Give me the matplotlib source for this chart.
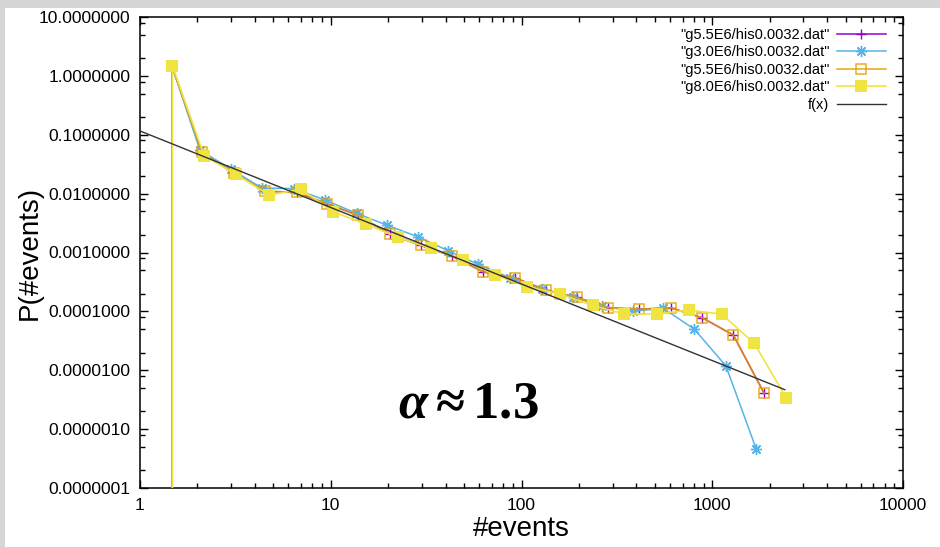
import matplotlib
matplotlib.use('Agg')
import matplotlib.pyplot as plt
from matplotlib.patches import Rectangle
from matplotlib.ticker import LogLocator, FixedLocator, FormatStrFormatter, NullFormatter

plt.rcParams['font.family'] = ['Liberation Sans', 'DejaVu Sans']
plt.rcParams['mathtext.fontset'] = 'custom'
plt.rcParams['mathtext.rm'] = 'Liberation Serif:bold'
plt.rcParams['mathtext.it'] = 'Liberation Serif:italic:bold'
plt.rcParams['mathtext.bf'] = 'Liberation Serif:bold'

# --- data (first point of each run drops to zero) ---
x_g55 = [1.47, 1.47, 2.11, 3.11, 4.52, 6.63, 9.59, 13.9, 20.5, 29.7, 43.1,
         63.1, 92.5, 134, 195, 285, 415, 606, 887, 1290, 1870]
p_g55 = [0, 1.48, 0.0501, 0.0223, 0.0110, 0.0105, 0.00671, 0.00427, 0.00203,
         0.00132, 0.000869, 0.000470, 0.000372, 0.000230, 0.000173, 0.000115,
         0.000109, 0.000115, 7.78e-5, 3.96e-5, 4.06e-6]

x_g30 = [1.47, 1.47, 2.06, 3.00, 4.36, 6.42, 9.33, 13.7, 19.7, 28.6, 41.3,
         59.4, 87.0, 128, 186, 263, 386, 554, 805, 1180, 1700]
p_g30 = [0, 1.48, 0.0548, 0.0261, 0.0124, 0.0122, 0.00777, 0.00461, 0.00292,
         0.00185, 0.00107, 0.000628, 0.000372, 0.000237, 0.000177, 0.000123,
         0.000101, 0.000112, 5.0e-5, 1.18e-5, 4.6e-7]

x_g80 = [1.48, 1.48, 2.17, 3.18, 4.75, 6.98, 10.3, 15.3, 22.6, 33.4, 49.5,
         72.6, 107, 159, 236, 346, 512, 755, 1120, 1660, 2440]
p_g80 = [0, 1.48, 0.0438, 0.0214, 0.00944, 0.0119, 0.00491, 0.00303, 0.00180,
         0.00119, 0.000743, 0.000418, 0.000262, 0.000197, 0.000126, 9.0e-5,
         9.1e-5, 1.05e-4, 9.0e-5, 2.87e-5, 3.41e-6]

# fitted power law f(x) = A * x^-alpha
fit_amp = 0.116
fit_alpha = 1.3
fit_x = [1, 2400]
fit_y = [fit_amp * x ** -fit_alpha for x in fit_x]

labels = ['"g5.5E6/his0.0032.dat"', '"g3.0E6/his0.0032.dat"',
          '"g5.5E6/his0.0032.dat"', '"g8.0E6/his0.0032.dat"', 'f(x)']
y_ticks = [1e-7, 1e-6, 1e-5, 1e-4, 1e-3, 1e-2, 1e-1, 1, 10]
x_ticks = [1, 10, 100, 1000, 10000]

fig = plt.figure(figsize=(9.4, 5.47), dpi=100)
fig.patch.set_facecolor('#d6d6d6')
fig.add_artist(Rectangle((5 / 940, 0), 1, 1 - 8 / 547, transform=fig.transFigure,
                         facecolor='white', edgecolor='none', zorder=0))

ax = fig.add_axes([140 / 940, 59 / 547, 763 / 940, 471 / 547])
ax.set_xscale('log')
ax.set_yscale('log')

ax.plot(x_g55, p_g55, color='#9400d3', lw=1.1, marker='+', ms=7, mew=1.0,
        label=labels[0], zorder=2)
ax.plot(x_g30, p_g30, color='#56b4e9', lw=1.1, marker=(8, 2, 0), ms=8, mew=1.0,
        label=labels[1], zorder=3)
ax.plot(x_g55, p_g55, color='#e69f00', lw=1.2, alpha=0.85, marker='s', ms=7,
        mfc='none', mew=1.1, label=labels[2], zorder=4)
ax.plot(x_g80, p_g80, color='#f0e442', lw=1.2, marker='s', ms=9, mew=0,
        label=labels[3], zorder=5)
ax.plot(fit_x, fit_y, color='#333333', lw=1.0, label=labels[4], zorder=6)

ax.set_xlim(1, 10000)
ax.set_ylim(1e-7, 10)

ax.xaxis.set_major_locator(FixedLocator(x_ticks))
ax.xaxis.set_major_formatter(FormatStrFormatter('%g'))
ax.xaxis.set_minor_locator(LogLocator(base=10, subs=range(2, 10)))
ax.xaxis.set_minor_formatter(NullFormatter())
ax.yaxis.set_major_locator(FixedLocator(y_ticks))
ax.yaxis.set_major_formatter(FormatStrFormatter('%.7f'))
ax.yaxis.set_minor_locator(LogLocator(base=10, subs=(2, 5, 8)))
ax.yaxis.set_minor_formatter(NullFormatter())

ax.tick_params(which='both', direction='in', top=True, right=True, width=1.0)
ax.tick_params(which='major', length=6, labelsize=12.5, pad=7)
ax.tick_params(which='minor', length=3.5)
for s in ax.spines.values():
    s.set_linewidth(1.1)

ax.set_xlabel('#events', fontsize=20, labelpad=2)
ax.set_ylabel('P(#events)', fontsize=20)
ax.yaxis.set_label_coords(-0.127, 0.5)

ax.text(0.43, 0.18, r'$\alpha\approx1.3$', transform=ax.transAxes,
        fontsize=38, ha='center', va='center')

ax.legend(loc='upper right', bbox_to_anchor=(0.978, 0.977), frameon=False,
          markerfirst=False, fontsize=10.5, handlelength=3.4, handletextpad=0.5,
          labelspacing=0.24, borderpad=0, borderaxespad=0)

fig.savefig('out.png', dpi=100, facecolor=fig.get_facecolor())
